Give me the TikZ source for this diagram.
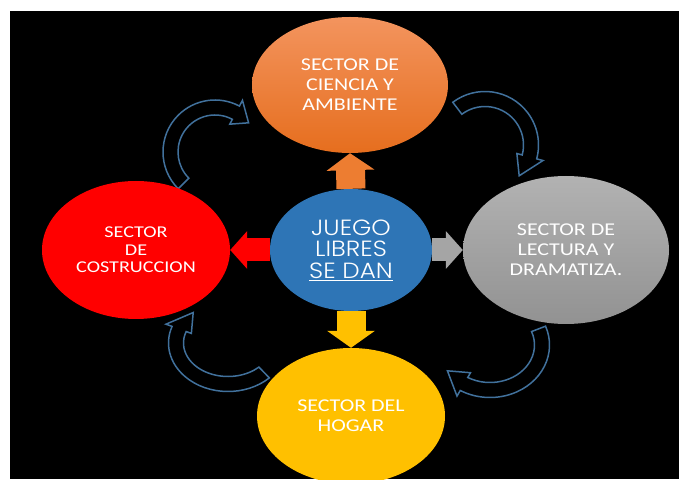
\documentclass[tikz,border=0pt]{standalone}
\usepackage{fontspec}
\setmainfont{Carlito}[FakeStretch=1.22]
\newfontfamily\gothic{Poppins Light}[FakeStretch=1.12]
\usetikzlibrary{shapes.geometric,arrows.meta,calc}
\definecolor{orangetop}{RGB}{243,148,94}
\definecolor{orangebot}{RGB}{230,110,30}
\definecolor{orangearr}{RGB}{237,125,49}
\definecolor{redx}{RGB}{255,0,0}
\definecolor{bluex}{RGB}{46,117,182}
\definecolor{graytop}{RGB}{178,178,178}
\definecolor{graybot}{RGB}{146,146,146}
\definecolor{grayarr}{RGB}{165,165,165}
\definecolor{yellowx}{RGB}{255,192,0}
\definecolor{linex}{RGB}{65,113,156}

% circular block arrow: centre, x radius, y radius, tail angle, head angle, tip angle
\newcommand\sweeparrow[6]{%
  \pgfmathsetmacro\rxo{#2+7.5}\pgfmathsetmacro\ryo{#3+7.5}%
  \pgfmathsetmacro\rxi{#2-7.5}\pgfmathsetmacro\ryi{#3-7.5}%
  \pgfmathsetmacro\rxb{#2+14}\pgfmathsetmacro\ryb{#3+14}%
  \pgfmathsetmacro\rxn{#2-13}\pgfmathsetmacro\ryn{#3-13}%
  \draw[loop] ($(#1)+(#4:\rxo\space and \ryo)$)
    arc[start angle=#4, end angle=#5, x radius=\rxo, y radius=\ryo]
    -- ($(#1)+(#5:\rxb\space and \ryb)$)
    -- ($(#1)+(#6:#2 and #3)$)
    -- ($(#1)+(#5:\rxn\space and \ryn)$)
    -- ($(#1)+(#5:\rxi\space and \ryi)$)
    arc[start angle=#5, end angle=#4, x radius=\rxi, y radius=\ryi]
    -- cycle;}

\begin{document}
\begin{tikzpicture}[x=1pt,y=1pt,
    sector/.style={ellipse, text=white, align=center, inner sep=0pt,
      font=\fontsize{18}{20}\selectfont},
    loop/.style={draw=linex, line width=1.5pt, fill=black, line join=miter},
    pushv/.style={line width=29pt, -{Triangle[width=47pt,length=17pt]}},
    pushh/.style={line width=23pt, -{Triangle[width=37pt,length=17pt]}}]
  \useasboundingbox (0,0) rectangle (679,479);
  \fill[white] (0,0) rectangle (679,479);
  \fill[black] (10,0) rectangle (679,468);
  \clip (0,0) rectangle (679,479);

  \coordinate (loopnw) at (215,327);
  \coordinate (loopne) at (485,334);
  \coordinate (loopse) at (490,134);
  \coordinate (loopsw) at (228,136);
  \sweeparrow{loopnw}{44.5}{44.5}{225}{62}{41}
  \sweeparrow{loopne}{46}{46}{127}{-15}{-42}
  \sweeparrow{loopse}{52}{45}{21}{-120}{-145}
  \sweeparrow{loopsw}{52}{41}{-46}{-200}{-228}

  \node[sector, top color=orangetop, bottom color=orangebot,
    minimum width=196pt, minimum height=136pt] (ciencia) at (350,394)
    {SECTOR DE\\CIENCIA Y\\AMBIENTE};
  \node[sector, fill=redx, minimum width=188pt, minimum height=138pt,
    font=\fontsize{16.5}{17.5}\selectfont] (construccion) at (136,229)
    {SECTOR\\DE\\COSTRUCCION};
  \node[sector, top color=graytop, bottom color=graybot,
    minimum width=206pt, minimum height=148pt] (lectura) at (566,229)
    {SECTOR DE\\LECTURA Y\\DRAMATIZA.};
  \node[sector, fill=yellowx, minimum width=188pt, minimum height=136pt]
    (hogar) at (351,63) {SECTOR DEL\\HOGAR};
  \node[sector, fill=bluex, minimum width=162pt, minimum height=122pt,
    font=\gothic\fontsize{22}{21.5}\selectfont] (juego) at (351,229)
    {JUEGO\\LIBRES\\\underline{SE DAN}};

  \draw[pushv, orangearr] (juego.north) -- (ciencia.south);
  \draw[pushv, yellowx] (juego.south) -- (hogar.north);
  \draw[pushh, redx] (juego.west) -- (construccion.east);
  \draw[pushh, grayarr] (juego.east) -- (lectura.west);
\end{tikzpicture}
\end{document}
